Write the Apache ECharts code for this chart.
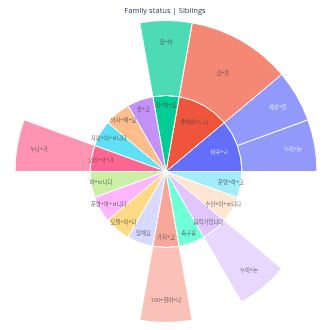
<!DOCTYPE html>
<html>
<head>
<meta charset="utf-8">
<script src="https://cdn.jsdelivr.net/npm/echarts@6/dist/echarts.min.js"></script>
<style>
html,body{margin:0;padding:0;background:#fff;}
#chart{width:330px;height:330px;}
</style>
</head>
<body>
<div id="chart"></div>
<script>
// ---- data ----
const titleText = 'Family status | Siblings';
const innerLabels = ['바꾸+ㄹ','좋아하+ㄴ다','있+어+요','살+고','의사+해+요','자랑+이+ㅂ니다','오리+사+가','하+ㅂ니다','운영+하+ㅂ니다','모델+이+다','임해요','가지+고','축구를','음악가입니다','수진+이+ㅂ니다','운영+하+고'];
const innerValues = [2,2,1,1,1,1,1,1,1,1,1,1,1,1,1,1];
const outerParents = ['바꾸+ㄹ','바꾸+ㄹ','좋아하+ㄴ다','있+어+요','오리+사+가','가지+고','음악가입니다'];
const outerLabels = ['누이+는','세상+을','것+을','형+이','누나+가','100+권이+나','누이+는'];
const outerValues = [1,1,2,1,1,1,1];

// ---- styles ----
const palette = ['#636efa','#ef553b','#00cc96','#ab63fa','#ffa15a','#19d3f3','#ff6692','#b6e880','#ff97ff','#fecb52',
                 '#c6cafd','#f7a799','#33ffc9','#e0c6fd','#ffdbc0','#7ae6f8'];
const darkBg = ['#636efa'];
const CX = 166, CY = 171.5, R1 = 76, R2 = 151;
const LABEL_R = {inner:{narrow:66, wide:57}, outer:{narrow:129, wide:113.5}};
const FONT = '"Open Sans", "Noto Sans CJK KR", sans-serif';

function rgba(hex, a){
  const n = parseInt(hex.slice(1),16);
  return 'rgba(' + ((n>>16)&255) + ',' + ((n>>8)&255) + ',' + (n&255) + ',' + a + ')';
}
const total = innerValues.reduce((a,b)=>a+b,0);
const labelPts = [];
function addLabel(name, startV, value, level, color){
  const mid = (startV + value/2) / total * 360;
  const r = value >= 2 ? LABEL_R[level].wide : LABEL_R[level].narrow;
  labelPts.push({name: name, value: [r, mid], label: {color: color}});
}

let cum = 0;
const data = innerLabels.map((name, i) => {
  const base = palette[i % palette.length];
  const txtColor = darkBg.includes(base) ? '#ffffff' : '#444444';
  const kids = [];
  let childCum = cum;
  outerParents.forEach((p, j) => {
    if (p === name) {
      kids.push({
        name: outerLabels[j], value: outerValues[j],
        itemStyle: {color: rgba(base, 0.7)}
      });
      addLabel(outerLabels[j], childCum, outerValues[j], 'outer', txtColor);
      childCum += outerValues[j];
    }
  });
  const node = {
    name: name, value: innerValues[i],
    itemStyle: {color: kids.length ? base : rgba(base, 0.7)}
  };
  if (kids.length) node.children = kids;
  addLabel(name, cum, innerValues[i], 'inner', txtColor);
  cum += innerValues[i];
  return node;
});

const chart = echarts.init(document.getElementById('chart'), null, {renderer:'canvas'});
chart.setOption({
  animation: false,
  title: {
    text: titleText, left: 'center', top: 7, padding: 0,
    textStyle: {fontFamily: FONT, fontSize: 7.6, fontWeight: 'normal', color: '#2a3f5f'}
  },
  polar: {center: [CX, CY], radius: [0, R2]},
  angleAxis: {type: 'value', min: 0, max: 360, startAngle: 0, clockwise: false, show: false},
  radiusAxis: {type: 'value', min: 0, max: R2, show: false},
  series: [{
    type: 'sunburst',
    center: [CX, CY],
    radius: [0, R2],
    startAngle: 0,
    clockwise: false,
    sort: null,
    nodeClick: false,
    silent: true,
    emphasis: {disabled: true},
    data: data,
    itemStyle: {borderColor: '#ffffff', borderWidth: 1},
    label: {show: false},
    levels: [
      {},
      {r0: 0, r: R1},
      {r0: R1, r: R2}
    ]
  }, {
    type: 'scatter',
    coordinateSystem: 'polar',
    symbolSize: 0,
    silent: true,
    z: 10,
    data: labelPts,
    label: {
      show: true, position: 'inside', formatter: '{b}',
      fontSize: 5.4, fontFamily: FONT, align: 'center', verticalAlign: 'middle'
    }
  }]
});
</script>
</body>
</html>
